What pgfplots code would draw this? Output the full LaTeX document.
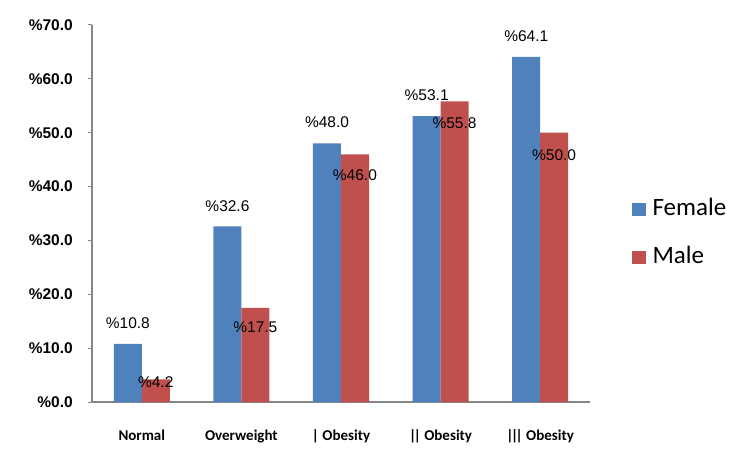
\documentclass[border=0pt]{standalone}
\usepackage{pgfplots}
\pgfplotsset{compat=1.18}
\usepackage{fontspec}
\setmainfont{Liberation Sans}
\newfontfamily\calibri{Carlito}
\definecolor{fem}{HTML}{4F81BD}
\definecolor{mal}{HTML}{C0504D}
\definecolor{axgray}{HTML}{868686}
\newcommand{\bb}{|\kern-2.5bp|}
\begin{document}
\begin{tikzpicture}
\path[use as bounding box] (-92bp,-67bp) rectangle (664bp,402bp);
\begin{axis}[
  at={(0,0)}, anchor=south west,
  scale only axis, width=498bp, height=377bp,
  xmin=-0.5, xmax=4.5, ymin=0, ymax=70,
  clip=false,
  axis lines*=left,
  axis line style={draw=axgray, line width=1.1bp, -},
  every tick/.style={draw=axgray, line width=1bp},
  tick align=outside,
  xtick={0,1,2,3,4},
  xticklabels={Normal, Overweight, | Obesity, \bb{} Obesity, \bb\kern-2.5bp| Obesity},
  x tick style={draw=none},
  extra x ticks={-0.5,0.5,1.5,2.5,3.5,4.5},
  extra x tick labels={},
  extra x tick style={major tick length=4bp, tick style={draw=axgray, line width=1bp}},
  xticklabel style={font=\calibri\bfseries\fontsize{15bp}{17bp}\selectfont, anchor=base, yshift=-34bp},
  ytick={0,10,...,70},
  major tick length=4bp,
  /pgf/number format/assume math mode=true,
  yticklabel={\%\pgfmathprintnumber[fixed, fixed zerofill, precision=1]{\tick}},
  yticklabel style={font=\bfseries\fontsize{15.5bp}{17bp}\selectfont, anchor=east, inner sep=0pt, xshift=-15bp},
  legend style={draw=none, at={(1.084,0.447)}, anchor=west, inner sep=0pt,
     font=\calibri\fontsize{25bp}{28bp}\selectfont, row sep=26bp,
     nodes={inner sep=0pt, text height=17bp, text depth=5bp, xshift=0bp}},
  legend cell align=left,
  legend image code/.code={\fill[#1] (0bp,-7bp) rectangle (13.5bp,6.5bp);},
]
\addplot[ybar, bar width=28bp, bar shift=-14bp, fill=fem, draw=none]
  coordinates {(0,10.8) (1,32.6) (2,48.0) (3,53.1) (4,64.1)};
\addlegendentry{\hspace{7bp}Female}
\addplot[ybar, bar width=28bp, bar shift=14bp, fill=mal, draw=none]
  coordinates {(0,4.2) (1,17.5) (2,46.0) (3,55.8) (4,50.0)};
\addlegendentry{\hspace{7bp}Male}
\addplot[draw=none, mark=none, forget plot, nodes near coords, point meta=explicit symbolic,
  every node near coord/.style={anchor=center, font=\fontsize{15.5bp}{17bp}\selectfont, inner sep=0pt}]
  coordinates {(-0.14,14.6)[\%10.8] (0.86,36.4)[\%32.6] (1.86,51.9)[\%48.0] (2.86,56.9)[\%53.1] (3.86,67.9)[\%64.1]};
\addplot[draw=none, mark=none, forget plot, nodes near coords, point meta=explicit symbolic,
  every node near coord/.style={anchor=center, font=\fontsize{15.5bp}{17bp}\selectfont, inner sep=0pt}]
  coordinates {(0.14,3.6)[\%4.2] (1.14,13.9)[\%17.5] (2.14,42.2)[\%46.0] (3.14,51.8)[\%55.8] (4.14,45.9)[\%50.0]};
\end{axis}
\end{tikzpicture}
\end{document}
